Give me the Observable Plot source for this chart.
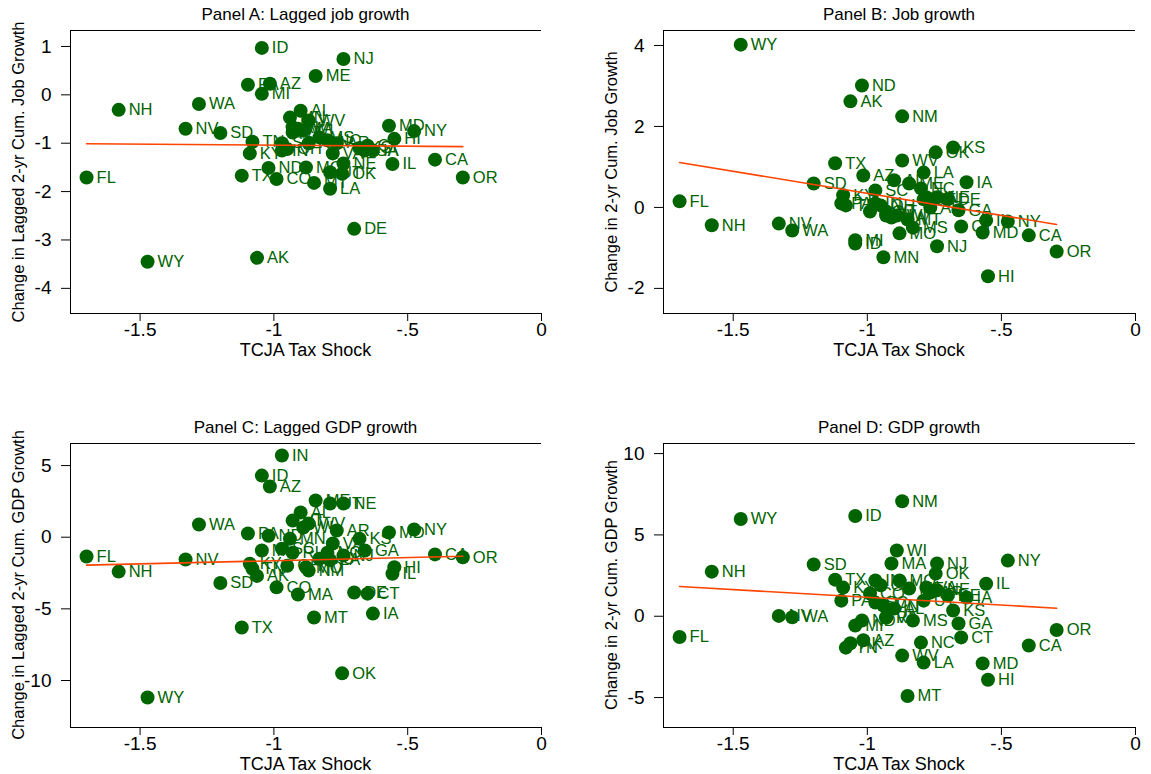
<!DOCTYPE html>
<html><head><meta charset="utf-8">
<script src="https://cdn.jsdelivr.net/npm/d3@7"></script>
<script src="https://cdn.jsdelivr.net/npm/@observablehq/plot@0.6"></script>
<style>
body{margin:0;background:#fff;font-family:"Liberation Sans",Arial,sans-serif;}
#wrap{position:relative;width:1151px;height:774px;overflow:hidden;background:#fff;}
.pl{position:absolute;}
.ttl{position:absolute;font-size:17px;color:#000;white-space:nowrap;transform:translate(-50%,-50%);}
.xl{position:absolute;font-size:18px;color:#000;white-space:nowrap;transform:translate(-50%,-50%);}
.yl{position:absolute;font-size:16.5px;color:#000;white-space:nowrap;transform:translate(-50%,-50%) rotate(-90deg);}
</style></head><body><div id="wrap"></div>
<script>
// ---- data ----
const states = ["AL","AK","AZ","AR","CA","CO","CT","DE","FL","GA","HI","ID","IL","IN","IA","KS","KY","LA","ME","MD","MA","MI","MN","MS","MO","MT","NE","NV","NH","NJ","NM","NY","NC","ND","OH","OK","OR","PA","RI","SC","SD","TN","TX","UT","VT","VA","WA","WV","WI","WY"];
const taxShock = [-0.90,-1.063,-1.015,-0.765,-0.398,-0.99,-0.65,-0.70,-1.70,-0.66,-0.55,-1.045,-0.557,-0.97,-0.63,-0.68,-1.09,-0.79,-0.844,-0.57,-0.91,-1.045,-0.94,-0.83,-0.88,-0.85,-0.74,-1.33,-1.58,-0.74,-0.87,-0.476,-0.80,-1.02,-0.95,-0.745,-0.294,-1.097,-0.93,-0.97,-1.20,-1.08,-1.12,-0.79,-0.93,-0.78,-1.28,-0.87,-0.89,-1.472];
const lagJobGrowth = [-0.33,-3.37,0.23,-1.0,-1.34,-1.74,-1.05,-2.77,-1.71,-1.15,-0.91,0.97,-1.43,-1.15,-1.15,-1.1,-1.21,-1.94,0.39,-0.64,-0.7,0.02,-0.47,-0.88,-1.5,-1.82,-1.42,-0.70,-0.31,0.74,-1.0,-0.75,-0.94,-1.51,-1.12,-1.63,-1.71,0.21,-0.67,-1.0,-0.79,-0.97,-1.67,-1.6,-0.78,-1.21,-0.19,-0.53,-0.74,-3.45];
const jobGrowth = [0.67,2.62,0.79,0.0,-0.69,-0.1,-0.47,0.2,0.15,-0.07,-1.70,-0.89,-0.32,0.1,0.62,1.48,0.3,0.86,0.59,-0.62,-0.25,-0.81,-1.23,-0.5,-0.64,-0.3,0.25,-0.40,-0.44,-0.96,2.25,-0.35,0.47,3.01,0.05,1.36,-1.09,0.1,-0.2,0.42,0.59,0.05,1.09,0.2,-0.1,0.25,-0.57,1.16,-0.2,4.02];
const lagGdpGrowth = [1.72,-2.7,3.54,0.47,-1.2,-3.5,-3.94,-3.86,-1.35,-0.93,-2.1,4.3,-2.55,5.7,-5.33,-0.1,-1.85,-1.6,2.56,0.33,-4.0,-0.93,-0.1,-1.5,-2.1,-5.6,2.35,-1.56,-2.4,-1.27,-2.33,0.54,-1.08,0.1,-2.0,-9.5,-1.4,0.26,-1.08,-0.8,-3.2,-2.2,-6.3,2.35,1.16,-0.44,0.89,0.96,0.68,-11.19];
const gdpGrowth = [0.47,-1.66,-1.48,1.45,-1.8,1.4,-1.3,1.27,-1.28,-0.45,-3.9,6.16,2.0,2.2,1.15,0.35,1.76,-2.85,1.7,-2.9,3.24,-0.57,0.66,-0.26,2.2,-4.9,1.6,0.02,2.74,3.24,7.07,3.42,-1.62,-0.26,1.9,2.62,-0.85,0.96,-0.08,0.84,3.18,-1.93,2.25,0.96,-0.08,1.76,-0.06,-2.42,4.04,5.98];
// fitted line endpoints
const fitX = [-1.70, -0.294];
const fitLagJob = [-1.01, -1.07];
const fitJob = [1.11, -0.42];
const fitLagGdp = [-1.95, -1.33];
const fitGdp = [1.83, 0.49];
// ticks
const xTicks = [-1.5, -1, -0.5, 0];
const yTicksA = [-4, -3, -2, -1, 0, 1];
const yTicksB = [-2, 0, 2, 4];
const yTicksC = [-10, -5, 0, 5];
const yTicksD = [-5, 0, 5, 10];
const titles = ["Panel A: Lagged job growth","Panel B: Job growth","Panel C: Lagged GDP growth","Panel D: GDP growth"];
const yLabels = ["Change in Lagged 2-yr Cum. Job Growth","Change in 2-yr Cum. Job Growth","Change in Lagged 2-yr Cum. GDP Growth","Change in 2-yr Cum. GDP Growth"];
const xLabel = "TCJA Tax Shock";

// ---- build ----
const GREEN = "#006400";
const LINE = "#ff4500";
const fmt = d => (d === -0.5 ? "-.5" : String(d));
const series = [lagJobGrowth, jobGrowth, lagGdpGrowth, gdpGrowth];
const fits = [fitLagJob, fitJob, fitLagGdp, fitGdp];
const yTicks = [yTicksA, yTicksB, yTicksC, yTicksD];
const yDomains = [[-4.52, 1.33], [-2.62, 4.37], [-13.28, 6.54], [-6.84, 10.62]];
const xDomain = [-1.76, 0];
const geo = [
  {left: 0, top: 0, width: 575, height: 365, mt: 30, mb: 52, mr: 34},
  {left: 593, top: 0, width: 558, height: 365, mt: 30, mb: 52, mr: 16},
  {left: 0, top: 413, width: 575, height: 361, mt: 30, mb: 47, mr: 34},
  {left: 593, top: 413, width: 558, height: 361, mt: 30, mb: 47, mr: 16}
];
const wrap = document.getElementById("wrap");
for (let p = 0; p < 4; p++) {
  const g = geo[p];
  const rows = states.map((s, i) => ({st: s, x: taxShock[i], y: series[p][i]}));
  const fitRows = fitX.map((x, i) => ({x, y: fits[p][i]}));
  const chart = Plot.plot({
    width: g.width, height: g.height,
    marginLeft: 70, marginRight: g.mr, marginTop: g.mt, marginBottom: g.mb,
    x: {domain: xDomain},
    y: {domain: yDomains[p]},
    style: {fontFamily: '"Liberation Sans", Arial, sans-serif', fontSize: "19px", color: "#000", background: "transparent", overflow: "visible"},
    marks: [
      Plot.ruleX([xDomain[0]], {stroke: "#000", strokeWidth: 1}),
      Plot.ruleY([yDomains[p][0], yDomains[p][1]], {stroke: "#000", strokeWidth: 1}),
      Plot.axisX({ticks: xTicks, tickFormat: fmt, tickSize: 8, tickPadding: 1, label: null, fontSize: 19}),
      Plot.axisY({ticks: yTicks[p], tickFormat: fmt, tickSize: 9, tickPadding: 10, label: null, fontSize: 19}),
      Plot.dot(rows, {x: "x", y: "y", r: 7, fill: GREEN, stroke: "none"}),
      Plot.text(rows, {x: "x", y: "y", text: "st", dx: 10, textAnchor: "start", fill: GREEN, fontSize: 16.5}),
      Plot.line(fitRows, {x: "x", y: "y", stroke: LINE, strokeWidth: 1.6})
    ]
  });
  chart.classList.add("pl");
  chart.style.left = g.left + "px";
  chart.style.top = g.top + "px";
  wrap.appendChild(chart);
  const cx = g.left + 70 + (g.width - 70 - g.mr) / 2;
  const t = document.createElement("div");
  t.className = "ttl"; t.textContent = titles[p];
  t.style.left = cx + "px"; t.style.top = (g.top + 15) + "px";
  wrap.appendChild(t);
  const xl = document.createElement("div");
  xl.className = "xl"; xl.textContent = xLabel;
  xl.style.left = cx + "px"; xl.style.top = (g.top + g.height - g.mb + 37) + "px";
  wrap.appendChild(xl);
  const yl = document.createElement("div");
  yl.className = "yl"; yl.textContent = yLabels[p];
  yl.style.left = (g.left + 18) + "px"; yl.style.top = (g.top + g.mt + (g.height - g.mt - g.mb) / 2) + "px";
  wrap.appendChild(yl);
}
</script></body></html>
